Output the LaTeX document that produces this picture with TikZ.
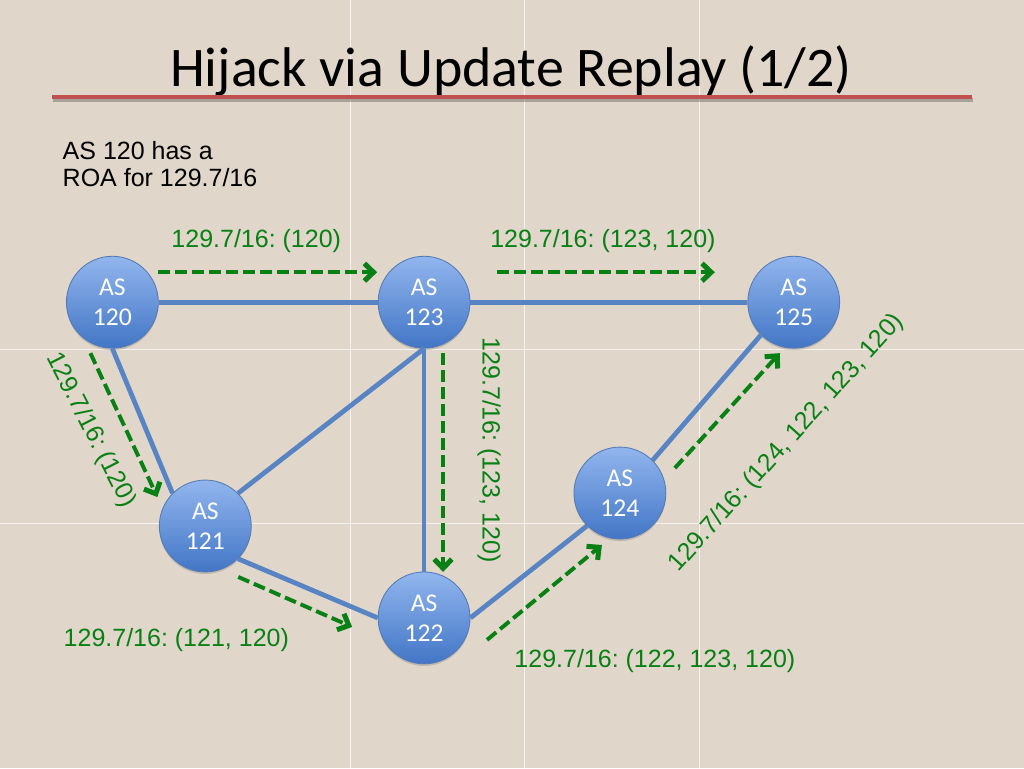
\documentclass[tikz,border=0pt]{standalone}
\usepackage{fontspec}
\setmainfont{Liberation Sans}
\newfontfamily\calibri{Carlito}
\usepackage{xcolor}
\usepackage{tikz}
\usetikzlibrary{arrows.meta,shadows}
\frenchspacing

\definecolor{paper}{RGB}{224,215,202}
\definecolor{linkblue}{RGB}{88,132,196}
\definecolor{astop}{RGB}{146,182,238}
\definecolor{asbottom}{RGB}{66,118,198}
\definecolor{asrim}{RGB}{84,122,180}
\definecolor{updgreen}{RGB}{8,128,20}
\definecolor{titlered}{RGB}{192,80,77}

\begin{document}
\begin{tikzpicture}[x=0.025cm, y=-0.025cm,
    as/.style={circle, draw=asrim, line width=0.6pt, top color=astop, bottom color=asbottom,
        minimum size=65.4pt, inner sep=0pt, text=white, align=center,
        font=\calibri\fontsize{18.2}{21.3}\selectfont,
        drop shadow={opacity=0.35, shadow xshift=0pt, shadow yshift=-1.5pt}},
    link/.style={linkblue, line width=3.4pt},
    upd/.style={updgreen, line width=2.8pt, dash pattern=on 8.5pt off 3.6pt,
        -{Straight Barb[length=6.5pt, width=12.5pt, line width=3.6pt]}},
    lbl/.style={text=updgreen, inner sep=0pt, font=\fontsize{17.8}{20}\selectfont}]
    % paper and its faint seams
    \fill[paper] (0,0) rectangle (1024,768);
    \foreach \gx in {350,524,700}
        \draw[white, opacity=0.7, line width=0.7pt] (\gx,0) -- (\gx,768);
    \foreach \gy in {349,523}
        \draw[white, opacity=0.7, line width=0.7pt] (0,\gy) -- (1024,\gy);

    % title
    \node[anchor=base, inner sep=0pt, font=\calibri\fontsize{39.8}{48}\selectfont] (title) at (511,86) {Hijack via Update Replay (1/2)};
    \draw[black, opacity=0.25, line width=2.8pt] (53,100) -- (973,100);
    \draw[titlered, line width=2.9pt] (52,97) -- (972,97);

    \node[anchor=base west, inner sep=0pt, align=left, font=\fontsize{17.8}{19.4}\selectfont] (roa) at (62,186) {AS 120 has a\\ROA for 129.7/16};

    % ASes
    \node[as] (a120) at (112,302) {AS\\120};
    \node[as] (a123) at (424,302) {AS\\123};
    \node[as] (a125) at (794,302) {AS\\125};
    \node[as] (a121) at (205,526) {AS\\121};
    \node[as] (a124) at (620,493) {AS\\124};
    \node[as] (a122) at (424,618) {AS\\122};

    % links
    \draw[link] (a120.east) -- (a123.west);
    \draw[link] (a123.east) -- (a125.west);
    \draw[link] (a120.south) -- (a121.north west);
    \draw[link] (a121.north east) -- (a123.south);
    \draw[link] (a123.south) -- (a122.north);
    \draw[link] (a121.south east) -- (a122.west);
    \draw[link] (a122.east) -- (a124.south west);
    \draw[link] (a124.north east) -- (a125.south west);

    % update ends
    \coordinate (u1s) at (158,272);  \coordinate (u1e) at (377,272);
    \coordinate (u2s) at (497,272);  \coordinate (u2e) at (715,272);
    \coordinate (u3s) at (90,353);   \coordinate (u3e) at (157,497);
    \coordinate (u4s) at (443,353);  \coordinate (u4e) at (443,572);
    \coordinate (u5s) at (238,577);  \coordinate (u5e) at (352,627);
    \coordinate (u6s) at (487,640);  \coordinate (u6e) at (602,545);
    \coordinate (u7s) at (675,468);  \coordinate (u7e) at (780,353);

    \draw[upd] (u1s) -- (u1e);
    \draw[upd] (u2s) -- (u2e);
    \draw[upd] (u3s) -- (u3e);
    \draw[upd] (u4s) -- (u4e);
    \draw[upd] (u5s) -- (u5e);
    \draw[upd] (u6s) -- (u6e);
    \draw[upd] (u7s) -- (u7e);

    % what each AS hears
    \node[lbl] (p1) at (256,241) {129.7/16: (120)};
    \node[lbl] (p2) at (603,241) {129.7/16: (123, 120)};
    \node[lbl, rotate=-63] (p3) at (90,430) {129.7/16: (120)};
    \node[lbl, rotate=-90] (p4) at (489,450) {129.7/16: (123, 120)};
    \node[lbl] (p5) at (176,640) {129.7/16: (121, 120)};
    \node[lbl] (p6) at (655,661) {129.7/16: (122, 123, 120)};
    \node[lbl, rotate=48] (p7) at (787,443) {129.7/16: (124, 122, 123, 120)};
\end{tikzpicture}
\end{document}
